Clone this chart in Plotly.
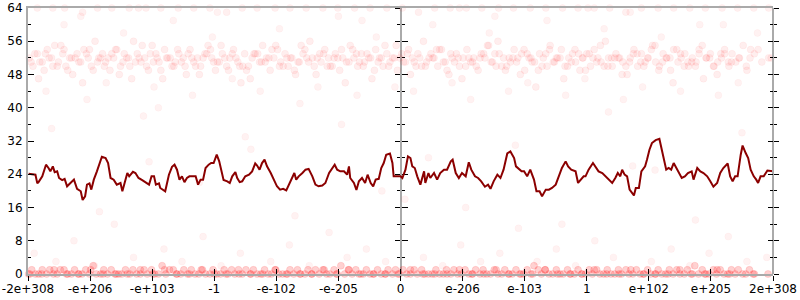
import plotly.graph_objects as go

# ---- x-axis categories (ordered double values) ----
tick_pos = [-6, -5, -4, -3, -2, -1, 0, 1, 2, 3, 4, 5, 6]
tick_text = ["-2e+308", "-e+206", "-e+103", "-1", "-e-102", "-e-205", "0",
             "e-206", "e-103", "1", "e+102", "e+205", "2e+308"]
y_ticks = [0, 8, 16, 24, 32, 40, 48, 56, 64]

# ---- moving-average line ----
line_x = [-5.99, -5.88, -5.85, -5.83, -5.77, -5.71, -5.67, -5.64, -5.60, -5.57,
          -5.53, -5.50, -5.45, -5.41, -5.37, -5.32, -5.26, -5.21, -5.15, -5.12,
          -5.08, -5.05, -5.01, -4.98, -4.94, -4.89, -4.83, -4.81, -4.75, -4.71,
          -4.67, -4.62, -4.57, -4.51, -4.48, -4.44, -4.40, -4.37, -4.31, -4.27,
          -4.22, -4.16, -4.11, -4.05, -4.01, -3.97, -3.94, -3.89, -3.87, -3.83,
          -3.79, -3.73, -3.68, -3.64, -3.60, -3.56, -3.52, -3.48, -3.44, -3.40,
          -3.36, -3.30, -3.26, -3.22, -3.18, -3.14, -3.09, -3.05,
          -3.01, -2.96, -2.92, -2.89, -2.85, -2.79, -2.75, -2.71, -2.66, -2.63,
          -2.59, -2.55, -2.50, -2.44, -2.39, -2.34, -2.31, -2.27, -2.23, -2.19,
          -2.15, -2.09, -2.04, -1.99, -1.94, -1.89, -1.84, -1.78, -1.74, -1.71,
          -1.68, -1.64, -1.58, -1.53, -1.48, -1.42, -1.37, -1.32, -1.26, -1.21,
          -1.15, -1.10, -1.06, -1.02, -0.97, -0.91, -0.86, -0.83, -0.81, -0.75,
          -0.71, -0.67, -0.62, -0.57, -0.53, -0.48, -0.44, -0.40, -0.35, -0.31,
          -0.27, -0.23, -0.17, -0.13, -0.11, -0.05, 0.00,
          0.03, 0.08, 0.12, 0.16, 0.19, 0.23, 0.27, 0.32, 0.38, 0.40,
          0.45, 0.48, 0.54, 0.59, 0.64, 0.70, 0.75, 0.81, 0.84, 0.89,
          0.94, 0.99, 1.05, 1.10, 1.14, 1.20, 1.25, 1.30, 1.36, 1.41,
          1.45, 1.50, 1.56, 1.61, 1.66, 1.72, 1.77, 1.83, 1.86, 1.91,
          1.95, 1.99, 2.04, 2.09, 2.15, 2.19, 2.24, 2.28, 2.34, 2.39,
          2.44, 2.50, 2.55, 2.60, 2.66, 2.70, 2.75, 2.82, 2.86, 2.90, 2.95,
          2.98, 3.03, 3.10, 3.14, 3.19, 3.25, 3.30, 3.35, 3.41, 3.46,
          3.50, 3.54, 3.57, 3.61, 3.65, 3.69, 3.73, 3.76, 3.79, 3.84,
          3.88, 3.94, 3.97, 4.01, 4.05, 4.11, 4.17, 4.21, 4.25, 4.28,
          4.32, 4.36, 4.40, 4.43, 4.48, 4.53, 4.58, 4.63, 4.69, 4.72,
          4.78, 4.83, 4.88, 4.94, 4.99, 5.04, 5.10, 5.15, 5.20, 5.27,
          5.31, 5.35, 5.39, 5.43, 5.48, 5.51, 5.56, 5.60, 5.64, 5.69,
          5.73, 5.76, 5.80, 5.85, 5.91, 5.96, 6.00]
line_y = [24.1, 23.9, 21.8, 22.1, 23.5, 26.3, 25.5, 24.7, 25.9, 24.5,
          24.7, 23.1, 22.6, 22.9, 21.1, 21.9, 22.7, 20.5, 19.9, 17.8,
          18.7, 21.5, 21.8, 20.3, 22.7, 24.7, 27.1, 28.2, 27.9, 26.7,
          23.1, 22.7, 21.5, 21.9, 19.9, 22.3, 24.3, 23.5, 24.6, 24.3,
          23.1, 22.6, 22.1, 21.5, 23.5, 23.5, 21.5, 21.8, 20.7, 20.3,
          19.9, 23.9, 25.8, 26.3, 25.1, 22.7, 23.5, 22.1, 23.1, 23.5,
          23.5, 23.5, 21.5, 22.7, 22.7, 25.5, 26.3, 26.7,
          26.7, 28.7, 27.1, 25.1, 22.6, 22.3, 21.9, 23.5, 24.5, 23.1,
          22.1, 22.3, 23.5, 23.9, 24.7, 26.6, 26.1, 25.1, 26.7, 27.5,
          25.9, 24.3, 22.7, 21.1, 20.3, 20.5, 20.1, 21.9, 23.5, 24.3,
          22.7, 23.5, 24.3, 25.1, 25.3, 23.5, 21.5, 21.1, 21.3, 21.9,
          24.3, 25.5, 26.3, 25.1, 24.7, 24.7, 23.9, 25.9, 23.1, 21.9,
          20.2, 22.3, 23.1, 21.9, 23.9, 21.9, 21.1, 22.7, 22.9, 25.5,
          26.7, 28.7, 29.0, 26.7, 23.5, 23.5, 23.5,
          23.1, 25.1, 28.3, 27.9, 25.9, 25.5, 23.5, 21.5, 24.7, 21.9,
          24.3, 23.1, 24.3, 22.7, 24.3, 25.1, 25.1, 27.1, 27.5, 24.3,
          23.1, 24.3, 23.5, 26.9, 25.1, 23.5, 23.1, 22.3, 21.0, 21.5,
          20.5, 22.3, 23.9, 23.1, 25.1, 29.0, 29.5, 27.9, 25.9, 25.1,
          24.7, 24.7, 23.5, 25.1, 22.7, 19.9, 19.9, 18.7, 20.3, 20.3,
          20.7, 21.5, 23.5, 25.5, 27.1, 25.9, 25.1, 24.7, 21.9, 22.7, 23.5,
          23.5, 25.1, 26.7, 25.9, 24.7, 24.3, 23.5, 22.7, 21.9, 23.1,
          24.3, 23.5, 25.1, 23.9, 23.5, 20.3, 19.5, 18.9, 20.7, 20.7,
          24.7, 25.9, 27.5, 29.9, 31.5, 32.2, 32.5, 29.9, 26.7, 25.1,
          25.5, 25.1, 26.7, 25.9, 24.7, 23.1, 23.5, 24.3, 24.7, 22.7,
          25.5, 24.7, 24.3, 23.5, 22.3, 21.0, 21.9, 24.3, 25.5, 26.6,
          23.5, 22.3, 23.5, 23.5, 28.7, 30.9, 29.1, 27.9, 25.1, 23.5,
          22.7, 21.9, 23.5, 23.5, 24.9, 24.7, 24.7]

# ---- raw samples: upper band ----
hi_x = [-5.98, -5.92, -5.85, -5.81, -5.74, -5.69, -5.62, -5.57, -5.51, -5.44,
        -5.39, -5.33, -5.28, -5.21, -5.15, -5.10, -5.03, -4.98, -4.92, -4.86,
        -4.80, -4.75, -4.68, -4.62, -4.57, -4.51, -4.45, -4.38, -4.33, -4.27,
        -4.21, -4.16, -4.09, -4.03, -3.98, -3.92, -3.86, -3.80, -3.75, -3.68,
        -3.63, -3.57, -3.50, -3.45, -3.39, -3.33, -3.27, -3.22, -3.15, -3.10,
        -3.04, -2.98, -2.92, -2.87, -2.80, -2.75, -2.69, -2.62, -2.57, -2.51,
        -2.45, -2.39, -2.34, -2.27, -2.22, -2.16, -2.10, -2.04, -1.98, -1.93,
        -1.86, -1.81, -1.75, -1.69, -1.63, -1.57, -1.51, -1.46, -1.39, -1.34,
        -1.28, -1.22, -1.16, -1.10, -1.05, -0.98, -0.93, -0.87, -0.81, -0.75,
        -0.69, -0.63, -0.58, -0.51, -0.46, -0.40, -0.34, -0.28, -0.22, -0.17,
        -0.10, -0.05, 0.02, 0.08, 0.13, 0.19, 0.25, 0.31, 0.37, 0.42,
        0.49, 0.54, 0.60, 0.66, 0.72, 0.78, 0.83, 0.90, 0.95, 1.01,
        1.07, 1.13, 1.18, 1.25, 1.30, 1.36, 1.42, 1.48, 1.54, 1.59,
        1.66, 1.71, 1.77, 1.83, 1.89, 1.95, 2.00, 2.07, 2.12, 2.18,
        2.24, 2.30, 2.36, 2.41, 2.48, 2.53, 2.59, 2.65, 2.71, 2.77,
        2.82, 2.89, 2.94, 3.00, 3.06, 3.12, 3.18, 3.23, 3.30, 3.35,
        3.41, 3.47, 3.53, 3.58, 3.65, 3.70, 3.76, 3.82, 3.88, 3.94,
        3.99, 4.06, 4.11, 4.17, 4.23, 4.29, 4.35, 4.40, 4.47, 4.52,
        4.58, 4.64, 4.70, 4.76, 4.81, 4.88, 4.93, 4.99, 5.05, 5.11,
        5.17, 5.22, 5.29, 5.34, 5.40, 5.46, 5.52, 5.58, 5.63, 5.70]
hi_y = [52, 50, 53, 51, 49, 54, 52, 55, 51, 53,
        50, 52, 48, 53, 51, 54, 52, 50, 56, 52,
        53, 51, 49, 52, 54, 50, 53, 52, 47, 51,
        52, 55, 50, 53, 51, 52, 49, 54, 52, 50,
        51, 53, 52, 48, 54, 51, 52, 50, 53, 55,
        52, 49, 51, 53, 50, 52, 54, 51, 46, 53,
        50, 52, 53, 51, 55, 52, 49, 52, 54, 51,
        53, 50, 52, 48, 51, 53, 52, 56, 50, 52,
        51, 54, 52, 50, 53, 49, 52, 51, 55, 52,
        50, 53, 51, 52, 47, 54, 52, 50, 53, 51,
        52, 49, 53, 51, 54, 52, 50, 52, 56, 51,
        53, 52, 50, 54, 51, 48, 52, 53, 50, 52,
        54, 51, 52, 49, 53, 52, 55, 51, 50, 53,
        52, 50, 51, 54, 52, 53, 49, 52, 51, 45,
        53, 52, 50, 55, 51, 52, 54, 50, 52, 53,
        51, 49, 52, 53, 50, 54, 52, 51, 56, 52,
        50, 53, 52, 51, 48, 52, 54, 50, 53, 51,
        52, 55, 51, 50, 53, 52, 49, 54, 51, 52,
        53, 50, 52, 51, 54, 47, 52, 53, 50, 51,
        52, 54, 50, 53, 51, 52, 55, 49, 52, 53]
hi_x2 = [-5.95, -5.83, -5.72, -5.60, -5.47, -5.36, -5.24, -5.12, -5.01, -4.88,
         -4.77, -4.65, -4.53, -4.41, -4.30, -4.18, -4.06, -3.94, -3.83, -3.71,
         -3.59, -3.47, -3.36, -3.24, -3.12, -3.01, -2.89, -2.77, -2.65, -2.54,
         -2.42, -2.30, -2.18, -2.07, -1.95, -1.83, -1.71, -1.60, -1.48, -1.36,
         -1.24, -1.13, -1.01, -0.89, -0.77, -0.66, -0.54, -0.42, -0.31, -0.19,
         -0.07, 0.05, 0.16, 0.28, 0.40, 0.52, 0.63, 0.75, 0.87, 0.99,
         1.10, 1.22, 1.34, 1.46, 1.57, 1.69, 1.81, 1.93, 2.04, 2.16,
         2.28, 2.40, 2.51, 2.63, 2.75, 2.87, 2.98, 3.10, 3.22, 3.34,
         3.45, 3.57, 3.69, 3.81, 3.92, 4.04, 4.16, 4.28, 4.39, 4.51,
         4.63, 4.75, 4.86, 4.98, 5.10, 5.22, 5.33, 5.57, 5.76, 5.93]
hi_y2 = [51, 47, 53, 50, 55, 49, 52, 46, 54, 51,
         50, 53, 48, 52, 56, 51, 49, 53, 47, 52,
         54, 50, 52, 48, 53, 51, 55, 49, 52, 50,
         47, 53, 51, 54, 50, 52, 49, 55, 51, 48,
         53, 50, 52, 46, 54, 51, 53, 49, 52, 50,
         55, 51, 48, 53, 50, 52, 54, 49, 51, 47,
         52, 50, 53, 51, 56, 49, 52, 48, 53, 51,
         50, 54, 52, 47, 51, 53, 49, 52, 55, 50,
         52, 48, 51, 53, 50, 54, 49, 52, 46, 53,
         51, 50, 55, 52, 48, 53, 51, 50, 54, 52]
hi_x3 = [-5.89, -5.77, -5.66, -5.53, -5.42, -5.30, -5.18, -5.06, -4.95, -4.83,
         -4.71, -4.59, -4.47, -4.36, -4.24, -4.12, -4.00, -3.89, -3.77, -3.65,
         -3.53, -3.42, -3.30, -3.18, -3.06, -2.95, -2.83, -2.71, -2.59, -2.48,
         -2.36, -2.24, -2.12, -2.01, -1.89, -1.77, -1.65, -1.54, -1.42, -1.30,
         -1.18, -1.07, -0.95, -0.83, -0.71, -0.60, -0.48, -0.36, -0.25, -0.13,
         -0.01, 0.11, 0.22, 0.34, 0.46, 0.58, 0.69, 0.81, 0.93, 1.05,
         1.16, 1.28, 1.40, 1.52, 1.63, 1.75, 1.87, 1.99, 2.10, 2.22,
         2.34, 2.46, 2.57, 2.69, 2.81, 2.93, 3.04, 3.16, 3.28, 3.40,
         3.51, 3.63, 3.75, 3.87, 3.98, 4.10, 4.22, 4.34, 4.45, 4.57,
         4.69, 4.81, 4.92, 5.04, 5.16, 5.28, 5.45, 5.64, 5.82, 5.97]
hi_y3 = [53, 51, 52, 50, 54, 52, 51, 53, 49, 52,
         52, 54, 51, 50, 53, 52, 55, 51, 52, 50,
         51, 53, 50, 52, 54, 51, 52, 53, 50, 49,
         53, 51, 52, 55, 50, 52, 51, 54, 52, 53,
         50, 52, 54, 51, 53, 50, 52, 51, 55, 52,
         52, 53, 51, 50, 52, 54, 51, 53, 52, 50,
         51, 52, 55, 53, 50, 52, 51, 54, 52, 49,
         53, 51, 52, 50, 54, 52, 53, 51, 50, 52,
         52, 50, 53, 51, 52, 55, 51, 52, 54, 50,
         51, 53, 52, 50, 53, 51, 52, 54, 51, 52]

# ---- raw samples: lower band ----
lo_x = [-5.99, -5.94, -5.88, -5.83, -5.77, -5.70, -5.65, -5.59, -5.53, -5.48,
        -5.42, -5.36, -5.30, -5.25, -5.18, -5.13, -5.07, -5.01, -4.95, -4.90,
        -4.83, -4.78, -4.72, -4.66, -4.60, -4.54, -4.49, -4.43, -4.36, -4.31,
        -4.25, -4.19, -4.13, -4.08, -4.01, -3.96, -3.90, -3.84, -3.78, -3.72,
        -3.66, -3.61, -3.54, -3.49, -3.43, -3.37, -3.31, -3.25, -3.19, -3.14,
        -3.07, -3.02, -2.96, -2.90, -2.84, -2.78, -2.72, -2.67, -2.60, -2.55,
        -2.49, -2.42, -2.37, -2.31, -2.25, -2.19, -2.13, -2.08, -2.01, -1.96,
        -1.90, -1.84, -1.78, -1.72, -1.66, -1.61, -1.54, -1.49, -1.43, -1.37,
        -1.31, -1.25, -1.19, -1.14, -1.07, -1.02, -0.96, -0.90, -0.84, -0.78,
        -0.72, -0.67, -0.60, -0.55, -0.49, -0.43, -0.37, -0.31, -0.25, -0.20,
        -0.13, -0.08, -0.02, 0.04, 0.10, 0.16, 0.22, 0.27, 0.34, 0.39,
        0.45, 0.51, 0.57, 0.63, 0.69, 0.74, 0.81, 0.86, 0.92, 0.98,
        1.04, 1.10, 1.16, 1.21, 1.28, 1.33, 1.39, 1.45, 1.51, 1.57,
        1.63, 1.68, 1.75, 1.80, 1.86, 1.92, 1.98, 2.04, 2.10, 2.15,
        2.22, 2.27, 2.33, 2.39, 2.45, 2.51, 2.57, 2.62, 2.69, 2.74,
        2.80, 2.86, 2.92, 2.98, 3.04, 3.09, 3.16, 3.21, 3.27, 3.33,
        3.39, 3.45, 3.51, 3.56, 3.63, 3.68, 3.74, 3.80, 3.86, 3.92,
        3.98, 4.03, 4.10, 4.15, 4.21, 4.27, 4.33, 4.39, 4.45, 4.50,
        4.57, 4.62, 4.68, 4.74, 4.80, 4.86, 4.92, 4.97, 5.04, 5.09,
        5.15, 5.21, 5.27, 5.33, 5.39, 5.44, 5.51, 5.56, 5.62, 5.68]
lo_y = [0, 1, 0, 0, 1, 0, 1, 0, 0, 1,
        1, 0, 0, 1, 0, 0, 1, 0, 2, 0,
        0, 1, 0, 1, 0, 0, 0, 1, 0, 1,
        0, 0, 1, 0, 1, 0, 0, 2, 0, 1,
        1, 0, 0, 1, 0, 1, 0, 0, 1, 0,
        0, 1, 0, 0, 1, 0, 1, 0, 0, 0,
        1, 0, 1, 0, 0, 1, 0, 0, 1, 0,
        0, 0, 1, 0, 1, 0, 0, 1, 0, 1,
        0, 1, 0, 0, 1, 0, 2, 0, 1, 0,
        1, 0, 0, 1, 0, 0, 1, 0, 0, 1,
        0, 1, 0, 1, 0, 0, 1, 0, 1, 0,
        0, 0, 1, 0, 0, 1, 0, 1, 0, 0,
        1, 0, 0, 1, 0, 1, 0, 0, 1, 0,
        0, 1, 0, 0, 1, 0, 0, 1, 0, 2,
        1, 0, 1, 0, 0, 1, 0, 0, 1, 0,
        0, 1, 0, 0, 1, 0, 1, 0, 0, 1,
        0, 0, 1, 0, 1, 0, 0, 1, 0, 0,
        1, 0, 0, 1, 0, 0, 1, 0, 1, 0,
        0, 1, 0, 2, 0, 1, 0, 0, 1, 0,
        1, 0, 0, 1, 0, 1, 0, 0, 1, 0]
lo_x2 = [-5.97, -5.78, -5.58, -5.38, -5.19, -4.99, -4.79, -4.58, -4.40, -4.19,
         -3.99, -3.80, -3.60, -3.40, -3.21, -3.00, -2.81, -2.61, -2.41, -2.22,
         -2.02, -1.82, -1.62, -1.43, -1.23, -1.03, -0.83, -0.64, -0.44, -0.24,
         -0.04, 0.16, 0.36, 0.55, 0.75, 0.95, 1.15, 1.34, 1.54, 1.74,
         1.94, 2.13, 2.33, 2.53, 2.73, 2.92, 3.12, 3.32, 3.52, 3.71,
         3.91, 4.11, 4.31, 4.50, 4.70, 4.90, 5.10, 5.30, 5.70, 5.92]
lo_y2 = [0, 0, 1, 0, 0, 1, 0, 0, 0, 1,
         0, 1, 0, 0, 1, 0, 0, 1, 0, 0,
         1, 0, 0, 0, 1, 0, 1, 0, 0, 0,
         0, 1, 0, 0, 0, 1, 0, 0, 1, 0,
         0, 0, 1, 0, 0, 0, 1, 0, 0, 1,
         0, 0, 0, 1, 0, 0, 1, 0, 0, 0]

# ---- raw samples: sparse outliers ----
sp_x = [-5.90, -5.71, -5.55, -5.42, -5.26, -5.05, -4.93, -4.74, -4.61, -4.46,
        -4.30, -4.14, -3.97, -3.81, -3.66, -3.52, -3.35, -3.18, -3.03, -2.89,
        -2.71, -2.58, -2.41, -2.26, -2.09, -1.95, -1.79, -1.62, -1.47, -1.33,
        -1.15, -1.00, -0.86, -0.70, -0.55, -0.39, -0.24, -0.09, 0.07, 0.21,
        0.37, 0.52, 0.68, 0.83, 0.97, 1.13, 1.29, 1.43, 1.60, 1.74,
        1.90, 2.05, 2.20, 2.36, 2.51, 2.66, 2.82, 2.97, 3.13, 3.28,
        3.43, 3.59, 3.74, 3.90, 4.04, 4.20, 4.36, 4.51, 4.66, 4.82,
        4.97, 5.12, 5.28, 5.44, 5.58, 5.75, 5.90, -5.62, -4.85, -3.90,
        -3.24, -2.50, -1.70, -0.95, -0.30, 0.45, 1.05, 1.85, 2.60, 3.35,
        4.10, 4.75, 5.50, -5.15, -2.95, -0.62, 1.52, 3.70, 5.20, -4.05]
sp_y = [5, 44, 3, 60, 8, 42, 2, 46, 12, 58,
        4, 38, 45, 6, 61, 3, 43, 9, 57, 2,
        47, 5, 30, 44, 3, 59, 7, 41, 2, 45,
        10, 62, 4, 43, 6, 57, 3, 45, 18, 44,
        4, 60, 2, 46, 7, 42, 3, 58, 5, 44,
        11, 46, 3, 61, 6, 43, 2, 47, 8, 59,
        4, 42, 26, 45, 3, 57, 6, 44, 2, 60,
        5, 43, 9, 46, 3, 58, 4, 35, 15, 40,
        22, 33, 14, 36, 20, 28, 16, 31, 12, 39,
        25, 13, 34, 62, 63, 61, 62, 63, 60, 27]
top_x = [-5.85, -5.60, -5.41, -5.12, -4.88, -4.65, -4.37, -4.10, -3.86, -3.58,
         -3.33, -3.07, -2.80, -2.55, -2.31, -2.02, -1.78, -1.52, -1.25, -1.01,
         -0.74, -0.49, -0.22, 0.03, 0.29, 0.55, 0.80, 1.06, 1.31, 1.58,
         1.82, 2.09, 2.34, 2.61, 2.86, 3.12, 3.37, 3.63, 3.88, 4.15,
         4.40, 4.66, 4.91, 5.18, 5.43, 5.69, 5.93, -4.22, 0.95, 3.02]
top_y = [64, 64, 64, 63, 64, 64, 64, 64, 64, 64,
         64, 64, 63, 64, 64, 64, 64, 64, 64, 64,
         64, 64, 64, 64, 63, 64, 64, 64, 64, 64,
         64, 64, 64, 64, 64, 64, 64, 63, 64, 64,
         64, 64, 64, 64, 64, 64, 64, 64, 64, 64]

AXIS_GRAY = "#aaaaaa"
FONT = dict(family="DejaVu Sans", size=12, color="black")

fig = go.Figure()


def dots(xs, ys, alpha, xa="x", ya="y", size=7):
    fig.add_trace(go.Scatter(
        x=xs, y=ys, mode="markers", cliponaxis=False, hoverinfo="skip",
        xaxis=xa, yaxis=ya,
        marker=dict(size=size, color=f"rgba(255,0,0,{alpha})",
                    line=dict(width=0.6, color=f"rgba(255,0,0,{alpha:.3f})")),
    ))


# each overlay axis gets its own traces so that it is drawn
dots(hi_x, hi_y, 0.065, "x", "y")
dots(hi_x2, hi_y2, 0.065, "x2", "y")
dots(hi_x3, hi_y3, 0.065, "x", "y")
dots(lo_x, lo_y, 0.18, "x", "y2")
dots(lo_x2, lo_y2, 0.18, "x", "y3")
dots(sp_x, sp_y, 0.05, "x", "y4")
dots(top_x, top_y, 0.06, "x", "y5")

fig.add_trace(go.Scatter(
    x=line_x, y=line_y, mode="lines", cliponaxis=False, hoverinfo="skip",
    xaxis="x", yaxis="y5",
    line=dict(color="#8b0000", width=2),
))

yr = [0, 64]
xr = [-6, 6]
common_y = dict(range=yr, tickmode="array", tickvals=y_ticks, showgrid=False,
                zeroline=False, tickcolor="black", tickwidth=1, fixedrange=True,
                automargin=False)


def minor(side, ln):
    return dict(dtick=4, tick0=0, ticks=side, ticklen=ln,
                tickcolor="black", tickwidth=1)


fig.update_layout(
    width=800, height=300,
    margin=dict(l=28, r=27, t=8, b=26, autoexpand=False),
    paper_bgcolor="white", plot_bgcolor="white",
    showlegend=False,
    font=FONT,
    xaxis=dict(range=xr, tickmode="array", tickvals=tick_pos, ticktext=tick_text,
               ticks="outside", ticklen=5, tickcolor="black", tickwidth=1,
               showline=True, linecolor=AXIS_GRAY, linewidth=2, mirror=True,
               showgrid=False, zeroline=False, tickfont=FONT,
               ticklabelstandoff=-2, automargin=False,
               ticklabeloverflow="allow", anchor="y"),
    xaxis2=dict(range=xr, overlaying="x", tickmode="array", tickvals=tick_pos,
                ticks="inside", ticklen=5, tickcolor="black", tickwidth=1,
                showline=False, showgrid=False, zeroline=False,
                showticklabels=False, anchor="y", side="bottom",
                automargin=False),
    yaxis=dict(**common_y, ticks="inside", ticklen=6, showline=True,
               linecolor=AXIS_GRAY, linewidth=2, tickfont=FONT,
               ticklabelstandoff=1,
               minor=minor("inside", 3), anchor="x"),
    yaxis2=dict(**common_y, overlaying="y", anchor="free", position=0.5,
                side="left", ticks="outside", ticklen=5, showline=True,
                linecolor=AXIS_GRAY, linewidth=2, showticklabels=False,
                layer="below traces", minor=minor("outside", 3)),
    yaxis3=dict(**common_y, overlaying="y", anchor="free", position=0.5,
                side="left", ticks="inside", ticklen=6, showline=False,
                showticklabels=False, layer="below traces",
                minor=minor("inside", 3)),
    yaxis4=dict(**common_y, overlaying="y", anchor="free", position=1.0,
                side="right", ticks="outside", ticklen=5, showline=True,
                linecolor=AXIS_GRAY, linewidth=2, showticklabels=False,
                minor=minor("outside", 3)),
    yaxis5=dict(**common_y, overlaying="y", anchor="free", position=1.0,
                side="right", ticks="inside", ticklen=5, showline=False,
                showticklabels=False, minor=minor("inside", 3)),
)

fig.write_html("out.html")
